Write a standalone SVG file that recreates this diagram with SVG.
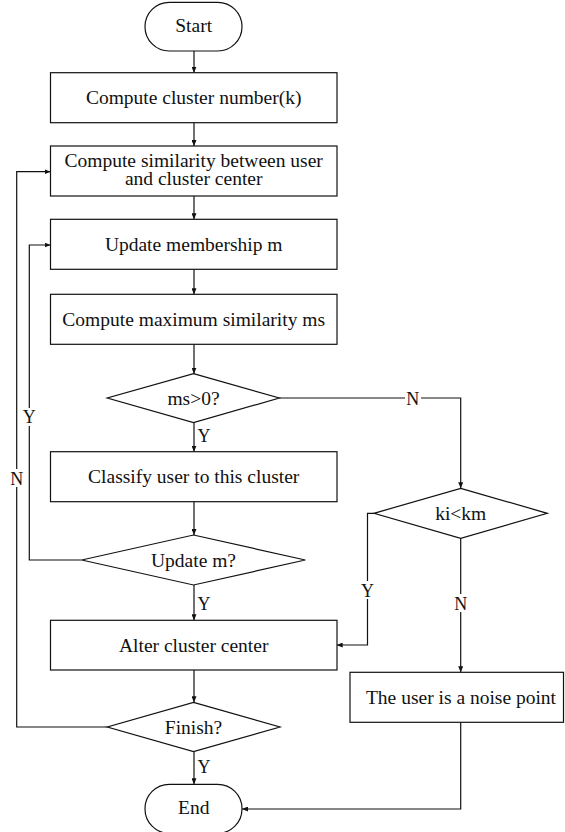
<svg xmlns="http://www.w3.org/2000/svg" width="565" height="832" viewBox="0 0 565 832">
<style>
.s{fill:#fff;stroke:#111;stroke-width:1.2}
.t{font-family:"Liberation Serif","Times New Roman",serif;font-size:19.5px;fill:#111;text-anchor:middle}
.l{font-family:"Liberation Serif","Times New Roman",serif;font-size:18px;fill:#111;text-anchor:middle}
.c{fill:none;stroke:#111;stroke-width:1.2;marker-end:url(#a)}
.n{fill:none;stroke:#111;stroke-width:1.2}
.bg{fill:#fff}
</style>
<defs>
<marker id="a" markerUnits="userSpaceOnUse" markerWidth="6" markerHeight="5" refX="6" refY="2.5" orient="auto">
<path d="M0,0 L6,2.5 L0,5 z" fill="#111"/>
</marker>
</defs>
<rect width="565" height="832" fill="#fff"/>
<g id="connectors">
<path class="c" d="M194,51 V72.7"/>
<path class="c" d="M194,122.7 V146"/>
<path class="c" d="M194,196 V219.3"/>
<path class="c" d="M194,269.3 V294.3"/>
<path class="c" d="M194,344.3 V373.7"/>
<path class="c" d="M194,422.7 V451.7"/>
<path class="c" d="M194,501.7 V535"/>
<path class="c" d="M194,585 V620.3"/>
<path class="c" d="M194,670 V702.3"/>
<path class="c" d="M194,751.7 V784.3"/>
<path class="c" d="M279.3,398 H460.7 V488.3"/>
<path class="c" d="M374,513.3 H367.5 V645 H336.7"/>
<path class="c" d="M460.7,538.3 V672.3"/>
<path class="c" d="M460.7,722.3 V809 H242"/>
<path class="c" d="M81.7,560 H29.3 V245 H50.5"/>
<path class="c" d="M107.3,727 H16.7 V171.7 H50.5"/>
<rect class="bg" x="405" y="389" width="16" height="18"/>
<text class="l" x="412.7" y="404.5">N</text>
<rect class="bg" x="360" y="581" width="15" height="18"/>
<text class="l" x="367.5" y="596.5">Y</text>
<rect class="bg" x="453" y="594" width="16" height="18"/>
<text class="l" x="460.7" y="609.5">N</text>
<rect class="bg" x="22" y="408" width="15" height="18"/>
<text class="l" x="29.3" y="423">Y</text>
<rect class="bg" x="9" y="469" width="16" height="18"/>
<text class="l" x="16.7" y="484.5">N</text>
<text class="l" x="204" y="441.5">Y</text>
<text class="l" x="204" y="609.5">Y</text>
<text class="l" x="204" y="772.5">Y</text>
</g>
<g id="start">
<rect class="s" x="145" y="2.3" width="97" height="48.7" rx="24.3"/>
<text class="t" x="193.7" y="32">Start</text>
</g>
<g id="compute-k">
<rect class="s" x="50.5" y="72.7" width="286.5" height="50"/>
<text class="t" x="193.7" y="103.5">Compute cluster number(k)</text>
</g>
<g id="compute-sim">
<rect class="s" x="50.5" y="146" width="286.5" height="50"/>
<text class="t" x="193.7" y="167">Compute similarity between user</text>
<text class="t" x="193.7" y="185">and cluster center</text>
</g>
<g id="update-membership">
<rect class="s" x="50.5" y="219.3" width="286.5" height="50"/>
<text class="t" x="193.7" y="250.5">Update membership m</text>
</g>
<g id="compute-max">
<rect class="s" x="50.5" y="294.3" width="286.5" height="50"/>
<text class="t" x="193.7" y="325.5">Compute maximum similarity ms</text>
</g>
<g id="ms-check">
<polygon class="s" points="193.5,373.7 279.3,398 193.5,422.7 107.3,398"/>
<text class="t" x="193.5" y="404.5">ms&gt;0?</text>
</g>
<g id="classify">
<rect class="s" x="50.5" y="451.7" width="286.5" height="50"/>
<text class="t" x="193.7" y="483">Classify user to this cluster</text>
</g>
<g id="update-check">
<polygon class="s" points="193.5,535 305.3,560 193.5,585 81.7,560"/>
<text class="t" x="193.5" y="566.5">Update m?</text>
</g>
<g id="alter">
<rect class="s" x="50.5" y="620.3" width="286.5" height="49.7"/>
<text class="t" x="193.7" y="651.5">Alter cluster center</text>
</g>
<g id="finish">
<polygon class="s" points="193.5,702.3 280,727 193.5,751.7 107.3,727"/>
<text class="t" x="193.5" y="733.5">Finish?</text>
</g>
<g id="end">
<rect class="s" x="145" y="784.3" width="97" height="49" rx="24.3"/>
<text class="t" x="193.7" y="813.5">End</text>
</g>
<g id="ki-check">
<polygon class="s" points="460.7,488.3 547.3,513.3 460.7,538.3 374,513.3"/>
<text class="t" x="460.7" y="519.5">ki&lt;km</text>
</g>
<g id="noise">
<rect class="s" x="350" y="672.3" width="213.5" height="50"/>
<text class="t" x="461" y="703.5">The user is a noise point</text>
</g>
</svg>
